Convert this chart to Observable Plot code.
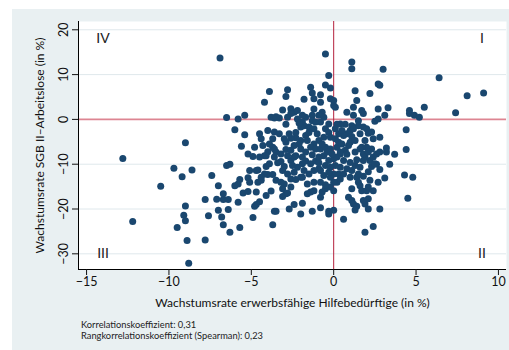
<!DOCTYPE html>
<html>
<head>
<meta charset="utf-8">
<script src="https://cdn.jsdelivr.net/npm/d3@7"></script>
<script src="https://cdn.jsdelivr.net/npm/@observablehq/plot@0.6"></script>
<style>
  html, body { margin: 0; padding: 0; background: #fff; }
  #wrap { position: relative; width: 509px; height: 350px; overflow: hidden; font-family: Lato, "Noto Sans", sans-serif; }
  #panel { position: absolute; left: 12px; top: 9px; right: 0; bottom: 0; background: #e9f0f2; }
  #chart { position: absolute; left: 0; top: 0; }
  #caption { position: absolute; left: 81px; top: 320px; font-size: 9.3px; line-height: 10.5px; color: #222; }
</style>
</head>
<body>
<div id="wrap">
  <div id="panel"></div>
  <div id="chart"></div>
  <div id="caption">
    <div>Korrelationskoeffizient: 0,31</div>
    <div>Rangkorrelationskoeffizient (Spearman): 0,23</div>
  </div>
</div>
<script>
// Wachstumsrate erwerbsfähige Hilfebedürftige (in %), one value per Kreis
const hilfebeduerftige = [
  -6.9,-0.5,1.1,1.1,3.0,6.4,2.7,2.8,8.1,9.1,7.4,5.5,4.6,4.6,4.9,5.2,4.4,4.4,4.3,4.8,
  4.5,3.7,3.4,3.2,3.2,3.1,2.8,2.7,2.4,2.4,1.9,0.6,-0.3,0.0,-0.3,-0.8,-1.3,-2.0,-1.9,-2.4,
  -2.7,-3.6,-3.7,-4.9,-5.7,-6.3,-6.7,-6.8,-7.0,-6.4,-7.6,-7.8,-7.8,-7.4,-7.0,-6.7,-6.7,-7.1,-6.4,-6.5,
  -6.3,-6.5,-5.8,-5.4,-6.0,-5.4,-5.6,-4.8,-5.2,-4.9,-5.1,-5.2,-5.1,-5.7,-5.8,-6.0,-5.5,-5.8,-5.2,-4.7,
  -4.5,-4.7,-4.8,-4.1,-3.8,-3.5,-4.4,-4.6,-4.1,-4.0,-4.5,-4.2,-3.9,-2.8,-2.9,-2.8,-3.1,-2.6,-2.9,-4.0,
  -3.8,-3.6,-3.3,-3.5,-3.6,-3.7,-3.7,-4.0,-4.2,-3.6,-3.9,-3.2,-3.0,-3.1,-3.7,-3.5,-3.2,-3.0,-3.1,-2.9,
  -3.1,-2.8,-2.4,-2.6,-2.3,-2.9,-2.7,-2.9,-2.4,-2.0,-2.3,-1.9,-1.7,-1.4,-1.1,-0.9,-1.5,-1.9,-1.2,-1.6,
  -0.8,-1.2,-1.4,-1.6,-0.8,-0.7,-0.5,-0.2,0.0,-0.5,0.2,0.3,0.0,-0.2,0.4,0.1,-0.3,0.0,0.6,0.8,
  1.1,1.0,1.3,1.4,1.5,1.6,1.7,1.1,0.9,1.1,1.2,1.4,1.3,1.8,1.9,2.0,2.1,2.1,2.1,1.8,
  2.1,2.3,2.2,1.9,2.4,2.6,2.8,2.3,2.0,1.7,2.4,2.8,2.1,1.8,1.5,2.0,2.5,2.7,3.1,3.3,
  2.7,2.2,1.3,1.4,1.2,1.7,1.8,0.8,1.2,1.5,1.1,0.7,0.4,0.2,0.8,1.1,0.6,0.3,1.0,0.9,
  1.3,1.3,0.7,0.4,0.2,0.8,-0.3,-0.5,-0.2,-0.2,0.0,0.0,0.1,-0.7,-0.9,-0.8,-0.8,-1.3,-1.2,-1.4,
  -1.8,-1.2,-1.3,-1.7,-1.9,-1.8,-1.5,-1.2,-1.3,-0.8,-0.5,-0.3,-0.2,-0.6,-0.9,-1.2,-1.4,-1.1,-0.8,-0.5,
  -0.2,-0.6,-0.9,-1.3,-1.7,-2.0,-2.1,-2.3,-2.6,-2.3,-2.0,-2.2,-2.4,-2.1,-1.7,-1.6,-0.8,-0.6,-1.2,-0.9,
  -0.5,-0.2,0.2,0.4,-2.6,-2.8,-3.2,-3.5,-3.6,-3.9,-4.3,-4.4,-4.1,-4.5,-4.2,-4.4,-4.6,-4.7,-2.2,-2.6,
  -2.8,-2.0,-1.8,-2.5,-3.4,0.3,1.0,1.2,1.6,1.9,1.6,1.8,1.6,2.6,2.8,2.5,-12.8,-12.2,-10.5,-9.7,
  -9.2,-9.0,-8.6,-9.0,-9.1,-9.0,-9.5,-8.9,-8.8,-1.0,-1.5,-0.7,-0.4,-0.1,0.5,0.1,0.6,0.4,0.0,-0.3,
  -2.6,-2.4,-1.9,-3.0,-3.3,-2.2,-2.6,-1.9,-1.1,-0.6,-0.3,0.1,0.5,2.3,1.8,2.1,1.4,1.0,1.5,2.2
];

// Wachstumsrate SGB II-Arbeitslose (in %), same order
const arbeitslose = [
  13.7,14.6,12.8,11.3,11.2,9.3,7.9,7.6,5.3,5.9,1.5,2.7,2.0,1.3,0.9,0.5,-2.3,-6.7,-12.4,-12.9,
  -17.6,-7.8,-10.0,-6.4,-7.3,-13.1,-20.0,-14.0,-15.9,-23.9,-25.2,-22.3,-20.5,-20.3,-21.1,-19.7,-20.5,-21.1,-18.7,-19.0,
  -20.0,-20.5,-23.5,-21.9,-24.1,-25.2,-23.5,-21.8,-20.3,-20.1,-21.5,-26.9,-17.9,-12.5,-14.8,-16.6,-17.9,-17.8,-17.9,-10.3,
  -10.0,0.4,0.1,0.9,-2.3,-3.4,-6.0,-6.2,-7.7,-8.3,-11.4,-13.0,-14.0,-13.4,-14.4,-14.8,-16.4,-18.5,-16.1,-16.2,
  -18.4,-19.0,-19.4,-17.0,-16.0,-20.5,-13.6,-11.3,-10.5,-12.3,-3.2,3.8,6.2,6.6,5.1,0.5,2.1,2.4,-1.1,-2.5,
  0.5,0.3,0.3,0.6,-2.8,-4.3,-6.2,-7.2,-8.1,-8.4,-9.9,-9.4,-10.5,-11.4,-12.3,-13.6,-14.0,-14.4,-15.5,-16.6,
  -17.2,-12.2,-11.8,-13.3,-13.4,-5.1,-3.2,-6.7,-5.8,-4.7,-8.1,-8.4,-9.3,-9.9,-9.3,-11.0,-12.2,-12.9,-14.0,-14.4,
  -14.0,-15.9,-16.2,-16.6,-17.4,-16.2,-15.5,-15.1,-15.9,-14.6,-14.0,-12.2,-12.2,-12.9,-10.7,-10.3,-9.2,-8.8,-9.2,-11.0,
  -11.4,-12.9,-10.3,-12.9,-14.0,-14.8,-15.9,-15.5,-17.4,-18.1,-18.9,-19.4,-20.2,-18.1,-18.9,-15.9,-15.1,-17.7,-20.0,-12.7,
  -11.7,-10.5,-9.2,-8.4,-8.4,-7.7,-7.3,-6.6,-6.2,-6.2,-4.3,-4.0,-3.1,-1.7,-1.4,-2.1,-0.4,0.1,0.9,2.6,
  2.3,5.8,6.4,4.2,2.7,2.0,1.3,1.6,0.9,-0.3,-1.4,-1.1,-1.0,-1.1,-3.2,-3.8,-3.6,-3.2,-5.1,-5.8,
  -7.3,-4.7,-6.9,-7.7,-6.2,-7.8,9.8,7.7,7.0,4.6,4.2,3.1,2.7,1.6,0.9,5.5,3.8,5.9,4.6,7.2,
  4.5,2.3,0.9,0.5,-0.6,-1.4,-1.7,-2.1,-0.3,-0.6,-2.1,-2.9,-4.0,-4.0,-4.7,-5.5,-6.2,-6.6,-6.6,-6.2,
  -6.6,-8.1,-8.4,-7.9,-7.3,-6.6,-5.5,-4.1,-4.2,-2.9,-1.7,0.1,1.6,-0.8,-3.6,-4.7,-11.4,-12.5,-11.4,-9.7,
  -10.3,-10.7,-8.4,-7.3,-9.2,-8.1,-7.7,-7.3,-6.6,-5.5,-5.8,-4.3,-8.1,-8.4,-12.2,-12.9,-14.0,-11.4,-10.7,-15.1,
  -16.4,-12.9,-11.4,-10.3,-9.7,-5.1,-2.5,-2.1,-3.2,-4.7,-6.6,-9.2,-10.7,-10.0,-11.2,-9.9,-8.7,-22.8,-14.9,-10.9,
  -12.8,-5.2,-11.3,-19.3,-21.4,-22.6,-24.1,-27.0,-32.1,-3.2,-2.9,-5.5,-7.3,-7.7,-5.5,-4.3,-12.2,-13.3,-14.0,-11.8,
  -6.9,-8.4,-9.9,-4.3,-3.2,2.0,1.3,0.9,-0.6,0.5,-1.0,-2.1,-2.5,-2.8,-7.7,-7.3,-9.0,-9.6,-12.2,-13.6
];

const xTicks = [-15, -10, -5, 0, 5, 10];
const yTicks = [-30, -20, -10, 0, 10, 20];
const yGrid = [-30, -20, -10, 10, 20];

// Quadrant labels
const quadrantNames = ["I", "II", "III", "IV"];
const quadrantX = [9, 9, -14, -14];
const quadrantY = [18, -30, -30, 18];

const xTitle = "Wachstumsrate erwerbsfähige Hilfebedürftige (in %)";
const yTitle = "Wachstumsrate SGB II–Arbeitslose (in %)";

const points = hilfebeduerftige.map((x, i) => ({x, y: arbeitslose[i]}));
const quadrants = quadrantNames.map((t, i) => ({t, x: quadrantX[i], y: quadrantY[i]}));

const xDomain = [-15.49, 10.49];
const yDomain = [-33.5, 21.85];

const chart = Plot.plot({
  width: 509,
  height: 350,
  marginLeft: 78,
  marginRight: 3,
  marginTop: 21,
  marginBottom: 81,
  style: {background: "transparent", fontFamily: "Lato, 'Noto Sans', sans-serif", fontSize: "12px", color: "#111"},
  x: {domain: xDomain},
  y: {domain: yDomain},
  marks: [
    Plot.frame({fill: "white", stroke: null}),
    Plot.ruleY(yGrid, {stroke: "#dfe8ec", strokeWidth: 1}),
    Plot.ruleY([0], {stroke: "#dd8592", strokeWidth: 1.6}),
    Plot.ruleX([0], {stroke: "#b5213d", strokeWidth: 1}),
    Plot.dot(points, {x: "x", y: "y", r: 3.5, fill: "#1a476f", stroke: null}),
    Plot.text(quadrants, {x: "x", y: "y", text: "t", fontSize: 14, fill: "#222"}),
    Plot.ruleX([xDomain[0]], {stroke: "#000", strokeWidth: 1}),
    Plot.ruleY([yDomain[0]], {stroke: "#000", strokeWidth: 1}),
    Plot.axisX({ticks: xTicks, tickSize: 6, tickPadding: 2, label: null, fontSize: 12.5}),
    Plot.axisY({ticks: yTicks, tickSize: 6, tickRotate: -90, tickPadding: 5, label: null, fontSize: 12.5}),
    Plot.text([xTitle], {frameAnchor: "bottom", dy: 34, lineAnchor: "middle", fontSize: 12, fill: "#111"}),
    Plot.text([yTitle], {frameAnchor: "left", rotate: -90, dx: -38, textAnchor: "middle", lineAnchor: "middle", fontSize: 12, fill: "#111"})
  ]
});
document.getElementById("chart").append(chart);
</script>
</body>
</html>
